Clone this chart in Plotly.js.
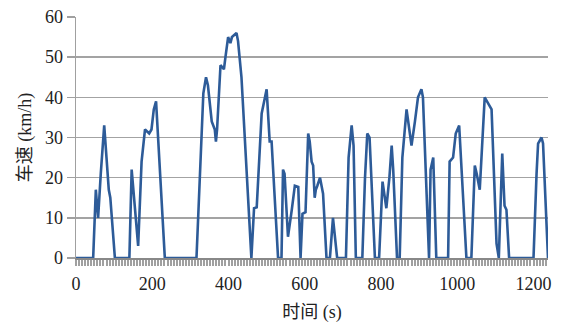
<!DOCTYPE html>
<html>
<head>
<meta charset="utf-8">
<script src="https://cdn.plot.ly/plotly-3.0.1.min.js"></script>
<style>html,body{margin:0;padding:0;background:#fff;}#chart{width:567px;height:324px;}</style>
</head>
<body>
<div id="chart"></div>
<script>
const timeS = [0,45,52,58,65,74,80,86,90,102,140,146,163,172,181,192,198,204,210,233,316,334,341,346,356,364,367,370,379,388,392,399,405,409,421,425,434,440,460,467,474,487,500,508,513,520,530,539,543,547,556,566,574,583,589,594,602,609,613,618,622,626,629,633,640,648,657,666,674,685,708,715,723,728,734,751,758,764,770,784,795,804,814,822,828,832,842,849,856,867,880,889,897,906,910,926,930,937,945,976,980,989,996,1005,1024,1037,1046,1051,1059,1072,1079,1084,1090,1103,1109,1118,1124,1129,1136,1200,1208,1212,1221,1225,1238];
const speedKmh = [0,0,17,10,21,33,25,17,15,0,0,22,3,24,32,31,32,37,39,0,0,41,45,43,34,32,29,32,48,47,50,55,53.5,55,56,54,45,35,0,12.4,12.6,36,42,29,29,17,0,0,22,21,5.3,12,18,17.7,0,11,11.4,31,29,24,23,15,17,18,20,16,0,0,10,0,0,25,33,28,0,0,20,31,30,0,0,19,12.4,20,28,22,0,0,25,37,28,34,40,42,40,0,22,25,0,0,24,25,31,33,0,0,23,21,17,40,39,38,37,3.6,0,26,13,12,0,0,21,28.5,30,28.5,0];
const xTicks = [0,200,400,600,800,1000,1200];
const yTicks = [0,10,20,30,40,50,60];
const xTitle = '时间 (s)';
const yTitle = '车速 (km/h)';

const fontFam = '"Liberation Serif", "Noto Sans CJK SC", serif';
const trace = {
  x: timeS, y: speedKmh, type: 'scatter', mode: 'lines',
  line: {color: '#2d5b98', width: 2.6},
  hoverinfo: 'skip'
};
const layout = {
  width: 567, height: 324,
  margin: {l: 76, r: 19, t: 17, b: 66},
  paper_bgcolor: '#fff', plot_bgcolor: '#fff',
  showlegend: false,
  font: {family: fontFam, size: 18, color: '#222'},
  xaxis: {
    range: [0, 1238],
    tickvals: xTicks, ticktext: xTicks.map(String),
    showgrid: false, zeroline: false,
    showline: true, linecolor: '#888', linewidth: 1.5,
    ticks: 'outside', ticklen: 6, tickwidth: 2, tickcolor: '#a0a0a0',
    ticklabelstandoff: 3,
    minor: {dtick: 8, ticks: 'outside', ticklen: 6, tickwidth: 2, tickcolor: '#a0a0a0', showgrid: false},
    title: {text: xTitle, font: {family: fontFam, size: 18}, standoff: 12}
  },
  yaxis: {
    range: [0, 60],
    tickvals: yTicks, ticktext: yTicks.map(String),
    showgrid: true, gridcolor: '#a3a3a3', gridwidth: 1.5,
    zeroline: false,
    showline: true, linecolor: '#a0a0a0', linewidth: 1.5,
    ticks: 'outside', ticklen: 8, tickwidth: 1.5, tickcolor: '#a0a0a0',
    title: {text: yTitle, font: {family: fontFam, size: 18}, standoff: 8}
  }
};
Plotly.newPlot('chart', [trace], layout, {displayModeBar: false, staticPlot: true});
</script>
</body>
</html>
